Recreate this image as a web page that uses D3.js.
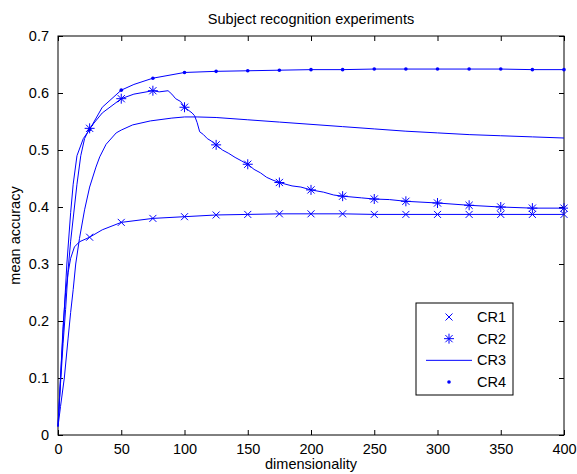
<!DOCTYPE html>
<html>
<head>
<meta charset="utf-8">
<script src="https://cdn.jsdelivr.net/npm/d3@7"></script>
<style>
  body { margin: 0; background: #fff; }
  svg text { font-family: "Liberation Sans", Arial, sans-serif; fill: #000; }
</style>
</head>
<body>
<div id="chart"></div>
<script>
// dimensionality / accuracy pairs
const cr1Dims = [0, 2, 4, 6, 8, 10, 13, 17, 25, 35, 50, 75, 100, 125, 150, 175, 200, 225, 250, 275, 300, 325, 350, 375, 400]
const cr1Vals = [0.015, 0.1, 0.19, 0.25, 0.285, 0.31, 0.33, 0.339, 0.347, 0.36, 0.373, 0.38, 0.383, 0.386, 0.387, 0.388, 0.388, 0.388, 0.387, 0.387, 0.387, 0.387, 0.387, 0.387, 0.387]

const cr2Dims = [0, 2, 4, 6, 8, 10, 13, 15, 18, 21, 25, 35, 50, 60, 75, 80, 87, 90, 93, 97, 100, 103, 106, 108, 110, 112, 115, 118, 121, 125, 130, 135, 140, 145, 150, 155, 160, 165, 170, 175, 185, 192, 200, 210, 218, 225, 240, 250, 262, 275, 300, 325, 350, 375, 400]
const cr2Vals = [0.015, 0.09, 0.16, 0.22, 0.29, 0.34, 0.4, 0.44, 0.49, 0.52, 0.538, 0.565, 0.59, 0.598, 0.604, 0.602, 0.604, 0.598, 0.59, 0.585, 0.575, 0.57, 0.565, 0.56, 0.548, 0.532, 0.527, 0.52, 0.516, 0.509, 0.5, 0.494, 0.487, 0.481, 0.475, 0.466, 0.46, 0.452, 0.447, 0.443, 0.437, 0.435, 0.43, 0.426, 0.421, 0.419, 0.416, 0.414, 0.413, 0.41, 0.407, 0.403, 0.4, 0.398, 0.398]

const cr3Dims = [0, 2, 5, 8, 10, 12, 14, 17, 21, 25, 30, 33, 38, 46, 50, 59, 73, 90, 100, 110, 125, 150, 175, 200, 225, 250, 275, 300, 325, 350, 375, 400]
const cr3Vals = [0.015, 0.05, 0.1, 0.17, 0.215, 0.255, 0.3, 0.345, 0.395, 0.435, 0.47, 0.488, 0.51, 0.53, 0.535, 0.544, 0.551, 0.556, 0.558, 0.558, 0.557, 0.553, 0.549, 0.545, 0.541, 0.537, 0.533, 0.53, 0.527, 0.525, 0.523, 0.521]

const cr4Dims = [0, 2, 4, 5, 7, 10, 12, 15, 20, 25, 35, 50, 60, 75, 100, 125, 150, 175, 200, 225, 250, 275, 300, 325, 350, 375, 400]
const cr4Vals = [0.015, 0.1, 0.18, 0.22, 0.3, 0.39, 0.44, 0.49, 0.52, 0.536, 0.575, 0.605, 0.615, 0.626, 0.636, 0.638, 0.639, 0.64, 0.641, 0.641, 0.642, 0.642, 0.642, 0.642, 0.642, 0.641, 0.641]

const seriesNames = ["CR1", "CR2", "CR3", "CR4"]
const xTicks = [0, 50, 100, 150, 200, 250, 300, 350, 400]
const yTicks = [0, 0.1, 0.2, 0.3, 0.4, 0.5, 0.6, 0.7]

const blue = "#0000ff"
const W = 577, H = 474
const margin = { top: 36, right: 13, bottom: 39, left: 58 }
const width = W - margin.left - margin.right
const height = H - margin.top - margin.bottom

const svg = d3.select("#chart").append("svg")
    .attr("width", W).attr("height", H)

const g = svg.append("g")
    .attr("transform", "translate(" + margin.left + "," + margin.top + ")")

const x = d3.scaleLinear().domain([0, 400]).range([0, width])
const y = d3.scaleLinear().domain([0, 0.7]).range([height, 0])

const series = [
    { name: "CR1", dims: cr1Dims, vals: cr1Vals, marker: "x" },
    { name: "CR2", dims: cr2Dims, vals: cr2Vals, marker: "star" },
    { name: "CR3", dims: cr3Dims, vals: cr3Vals, marker: null },
    { name: "CR4", dims: cr4Dims, vals: cr4Vals, marker: "dot" },
].map((s) => ({ ...s, points: s.dims.map((d, i) => ({ d: d, v: s.vals[i] })) }))

const tickLen = 5
const fontSize = 14.5

// axes, MATLAB style: ticks pointing inward on all four sides
g.append("g").attr("transform", "translate(0," + height + ")")
    .call(d3.axisBottom(x).tickValues(xTicks).tickSizeInner(-tickLen).tickSizeOuter(0).tickPadding(9))
g.append("g")
    .call(d3.axisTop(x).tickValues(xTicks).tickSizeInner(-tickLen).tickSizeOuter(0).tickFormat(""))
g.append("g")
    .call(d3.axisLeft(y).tickValues(yTicks).tickSizeInner(-tickLen).tickSizeOuter(0).tickPadding(9).tickFormat(d3.format("")))
g.append("g").attr("transform", "translate(" + width + ",0)")
    .call(d3.axisRight(y).tickValues(yTicks).tickSizeInner(-tickLen).tickSizeOuter(0).tickFormat(""))

g.selectAll(".domain").remove()
g.selectAll(".tick line").attr("stroke", "#000").attr("stroke-width", 1)
g.selectAll(".tick text").attr("font-size", fontSize).attr("font-family", "Liberation Sans, Arial, sans-serif")

g.append("rect")
    .attr("x", 0).attr("y", 0).attr("width", width).attr("height", height)
    .attr("fill", "none").attr("stroke", "#000").attr("stroke-width", 1)

svg.append("defs").append("clipPath").attr("id", "plotClip")
    .append("rect").attr("x", -4).attr("y", -4).attr("width", width + 8).attr("height", height + 8)

const plot = g.append("g").attr("clip-path", "url(#plotClip)")

const line = d3.line().x((p) => x(p.d)).y((p) => y(p.v))

plot.selectAll("path.series")
    .data(series)
    .enter()
    .append("path")
    .attr("class", "series")
    .attr("d", (s) => line(s.points))
    .attr("fill", "none")
    .attr("stroke", blue)
    .attr("stroke-width", 1)

function drawMarker(sel, type) {
    if (type === "x") {
        const r = 3.5
        sel.append("path")
            .attr("d", "M" + -r + "," + -r + "L" + r + "," + r + "M" + -r + "," + r + "L" + r + "," + -r)
            .attr("stroke", blue).attr("stroke-width", 1).attr("fill", "none")
    } else if (type === "star") {
        const r = 5, q = 3.6
        sel.append("path")
            .attr("d", "M" + -r + ",0L" + r + ",0M0," + -r + "L0," + r +
                "M" + -q + "," + -q + "L" + q + "," + q + "M" + -q + "," + q + "L" + q + "," + -q)
            .attr("stroke", blue).attr("stroke-width", 1).attr("fill", "none")
    } else if (type === "dot") {
        sel.append("circle").attr("r", 1.8).attr("fill", blue)
    }
}

series.filter((s) => s.marker).forEach((s) => {
    const pts = s.points.filter((p) => p.d > 0 && p.d % 25 === 0)
    plot.append("g").selectAll("g")
        .data(pts)
        .enter()
        .append("g")
        .attr("transform", (p) => "translate(" + x(p.d) + "," + y(p.v) + ")")
        .each(function () { drawMarker(d3.select(this), s.marker) })
})

// title and axis labels
svg.append("text")
    .attr("x", margin.left + width / 2).attr("y", 24)
    .attr("text-anchor", "middle").attr("font-size", fontSize)
    .text("Subject recognition experiments")

svg.append("text")
    .attr("x", margin.left + width / 2).attr("y", 469)
    .attr("text-anchor", "middle").attr("font-size", fontSize)
    .text("dimensionality")

svg.append("text")
    .attr("transform", "translate(20," + (margin.top + height / 2) + ") rotate(-90)")
    .attr("text-anchor", "middle").attr("font-size", fontSize)
    .text("mean accuracy")

// legend
const lg = svg.append("g").attr("transform", "translate(416,303)")
lg.append("rect")
    .attr("width", 97).attr("height", 92)
    .attr("fill", "#fff").attr("stroke", "#000").attr("stroke-width", 1)

const rowY = d3.scalePoint().domain(seriesNames).range([14, 79])
series.forEach((s) => {
    const row = lg.append("g").attr("transform", "translate(0," + rowY(s.name) + ")")
    if (s.marker) {
        drawMarker(row.append("g").attr("transform", "translate(33,0)"), s.marker)
    } else {
        row.append("line").attr("x1", 10).attr("x2", 56)
            .attr("stroke", blue).attr("stroke-width", 1)
    }
    row.append("text")
        .attr("x", 61).attr("dy", "0.35em")
        .attr("font-size", fontSize)
        .text(s.name)
})
</script>
</body>
</html>
